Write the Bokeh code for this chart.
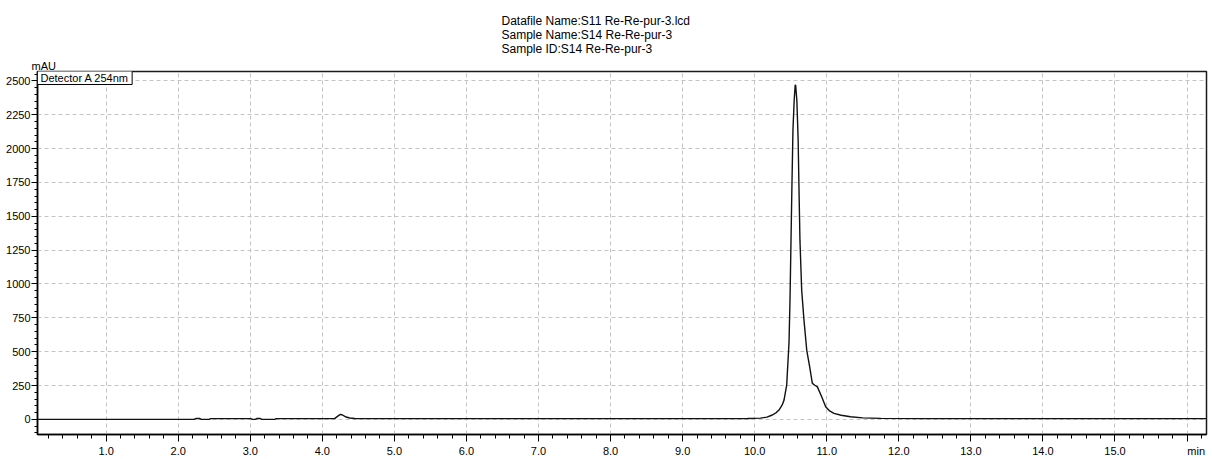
from bokeh.plotting import figure
from bokeh.models import Range1d, FixedTicker, Label, PrintfTickFormatter, Title
from bokeh.embed import file_html
from bokeh.resources import INLINE

# Chromatogram trace: retention time (min) and detector response (mAU)
time_min = [0.05, 2.22, 2.25, 2.30, 2.32, 2.43, 2.45, 3.01, 3.03, 3.07, 3.09, 3.14,
            3.16, 3.34, 3.36, 4.17, 4.21, 4.25, 4.28, 4.33, 4.38, 4.45, 4.60, 9.50,
            9.90, 10.08, 10.17, 10.245, 10.30, 10.337, 10.38, 10.407, 10.444, 10.476,
            10.49, 10.504, 10.518, 10.531, 10.548, 10.562, 10.568, 10.585, 10.603,
            10.615, 10.628, 10.652, 10.684, 10.722, 10.763, 10.80, 10.835, 10.87,
            10.93, 10.985, 11.04, 11.10, 11.20, 11.33, 11.50, 11.75, 12.30, 16.27]
signal_mau = [0, 0, 6, 6, 0, 0, 5, 5, 0, 0, 6, 6,
              0, 0, 5, 5, 22, 37, 32, 17, 10, 6, 5, 5,
              6, 9, 16, 32, 50, 69, 105, 142, 253, 564,
              881, 1324, 1767, 2137, 2358, 2469, 2469, 2358, 2064,
              1694, 1324, 955, 733, 512, 388, 266, 252, 240,
              167, 93, 62, 44, 30, 19, 11, 7, 5, 5]

x_major = [1.0, 2.0, 3.0, 4.0, 5.0, 6.0, 7.0, 8.0, 9.0, 10.0, 11.0, 12.0, 13.0, 14.0, 15.0, 16.0]
y_major = [0, 250, 500, 750, 1000, 1250, 1500, 1750, 2000, 2250, 2500]

header_lines = ["Datafile Name:S11 Re-Re-pur-3.lcd",
                "Sample Name:S14 Re-Re-pur-3",
                "Sample ID:S14 Re-Re-pur-3"]
detector_label = "Detector A 254nm"
y_unit = "mAU"
x_unit = "min"

FONT = "Liberation Sans"

p = figure(width=1212, height=459, output_backend="svg", toolbar_location=None, title=None,
           x_range=Range1d(0.047, 16.27), y_range=Range1d(-112, 2570),
           min_border_left=37, min_border_right=6, min_border_top=71, min_border_bottom=24)
p.background_fill_color = "white"
p.border_fill_color = "white"
p.outline_line_color = "#1a1a1a"
p.outline_line_width = 1.5

p.line(time_min, signal_mau, line_color="#111111", line_width=1.4)

x_minor = [round(0.2 * i, 1) for i in range(1, 82) if (i % 5) != 0]
y_minor = [50 * i for i in range(-2, 52) if (50 * i) % 250 != 0]

xa = p.xaxis[0]
xa.ticker = FixedTicker(ticks=x_major, minor_ticks=x_minor)
xa.formatter = PrintfTickFormatter(format="%.1f")
# the last major tick carries the time unit instead of a number
xa.major_label_overrides = {16.0: "\u00a0" * 6 + x_unit}
xa.major_tick_out = 7
xa.major_tick_in = 0
xa.minor_tick_out = 4
xa.minor_tick_in = 0
xa.major_label_standoff = 3

ya = p.yaxis[0]
ya.ticker = FixedTicker(ticks=y_major, minor_ticks=y_minor)
ya.major_tick_out = 6
ya.major_tick_in = 0
ya.minor_tick_out = 3
ya.minor_tick_in = 0
ya.major_label_standoff = 1

for ax in (xa, ya):
    ax.axis_line_color = "black"
    ax.axis_line_width = 1.5
    ax.major_tick_line_color = "black"
    ax.minor_tick_line_color = "black"
    ax.major_label_text_font = FONT
    ax.major_label_text_font_size = "11px"
    ax.major_label_text_color = "black"

p.xgrid.ticker = FixedTicker(ticks=x_major)
p.ygrid.ticker = FixedTicker(ticks=y_major)
for g in (p.xgrid[0], p.ygrid[0]):
    g.grid_line_color = "#c4c4c4"
    g.grid_line_dash = "4 3"
    g.grid_line_width = 1

# y unit sits directly on top of the value axis
p.add_layout(Title(text=y_unit, align="left", offset=-6, standoff=0,
                   text_font=FONT, text_font_size="11px", text_font_style="normal",
                   text_color="black"), "above")

# header block above the plot area
p.add_layout(Title(text="\n".join(header_lines), align="left", offset=464, standoff=4,
                   text_font=FONT, text_font_size="12px", text_font_style="normal",
                   text_line_height=1.0, text_color="black"), "above")

# detector tag in the top-left corner
p.add_layout(Label(x=0, y=364, x_units="screen", y_units="screen", text=detector_label,
                   text_font=FONT, text_font_size="11px", text_color="black",
                   text_baseline="top", padding=(3, 1),
                   border_line_color="black", border_line_width=1,
                   background_fill_color="white"))

open("out.html", "w").write(file_html(p, INLINE))
